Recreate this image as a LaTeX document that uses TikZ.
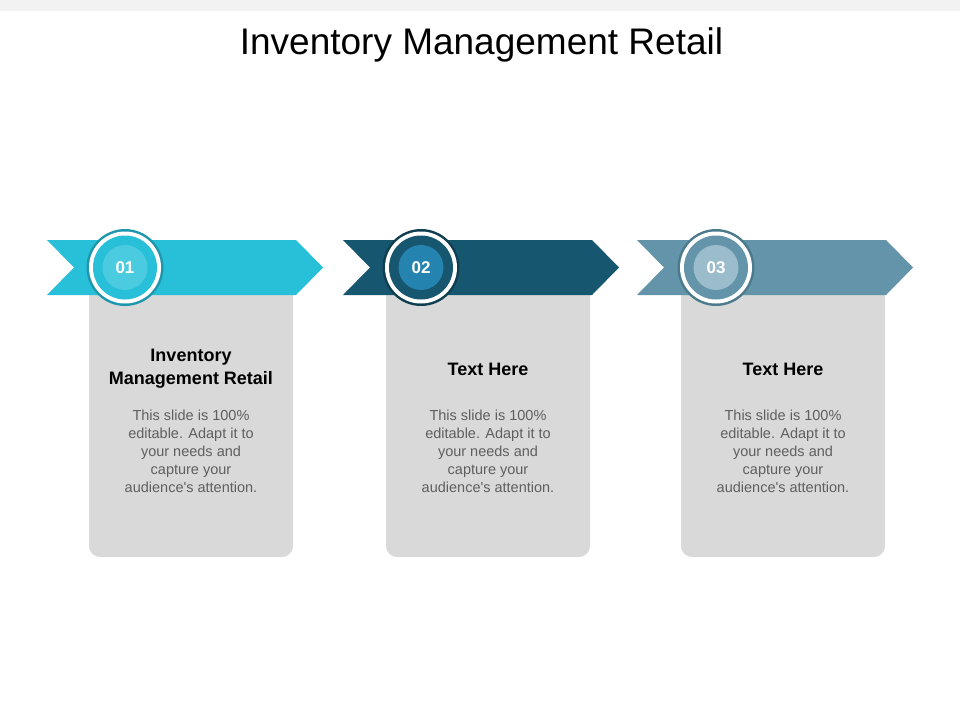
\documentclass[tikz,border=0pt]{standalone}
\usepackage{fontspec}
\setmainfont{Liberation Sans}
\begin{document}
\begin{tikzpicture}[x=1pt,y=-1pt,
  titlefont/.style={font=\fontsize{37}{42}\selectfont, text=black},
  headfont/.style={font=\bfseries\fontsize{18}{23}\selectfont, text=black, align=center},
  bodyfont/.style={font=\fontsize{14.5}{18}\selectfont, text=bodygray, align=center},
  numfont/.style={font=\bfseries\fontsize{17}{20}\selectfont, text=white},
]
\definecolor{topband}{HTML}{F2F2F2}
\definecolor{cardgray}{HTML}{D9D9D9}
\definecolor{bodygray}{HTML}{5F5F5F}
\definecolor{bA}{HTML}{28BFD9}\definecolor{rA}{HTML}{1E97AD}\definecolor{iA}{HTML}{4BCBE0}
\definecolor{bB}{HTML}{17566F}\definecolor{rB}{HTML}{0F3E51}\definecolor{iB}{HTML}{2583B0}
\definecolor{bC}{HTML}{6494A9}\definecolor{rC}{HTML}{4C7A8D}\definecolor{iC}{HTML}{9ABCCB}

\useasboundingbox (0,0) rectangle (960,720);
\fill[white] (0,0) rectangle (960,720);
\fill[topband] (0,0) rectangle (960,11);

\node[titlefont, anchor=base] (title) at (481.5,54) {Inventory Management Retail};

% step columns: banner left x, box left x, circle x
\foreach \bl/\xl/\cx/\bc/\rc/\ic/\k/\num in {47/89/125/bA/rA/iA/0/01, 343/386/421/bB/rB/iB/1/02, 637/681/716/bC/rC/iC/2/03}{
    \fill[cardgray, rounded corners=11pt] (\xl,275) rectangle ({\xl+204},557);
    \fill[\bc] (\bl,240) -- ({\bl+249},240) -- ({\bl+276},267.5) -- ({\bl+249},295) -- (\bl,295) -- ({\bl+27},267.5) -- cycle;
    \fill[\rc] (\cx,267.5) circle (38.5);
    \fill[white] (\cx,267.5) circle (36);
    \fill[\bc] (\cx,267.5) circle (32);
    \fill[\ic] (\cx,267.5) circle (22.5);
    \node[numfont] (num\k) at (\cx,267.5) {\num};
}

\node[headfont] (head0) at (191,369) {Inventory\\Management Retail};
\node[headfont] (head1) at (488,369) {Text Here};
\node[headfont] (head2) at (783,369) {Text Here};

\node[bodyfont] (body0) at (191,451) {This slide is 100\%\\editable. Adapt it to\\your needs and\\capture your\\audience\textquotesingle s attention.};
\node[bodyfont] (body1) at (488,451) {This slide is 100\%\\editable. Adapt it to\\your needs and\\capture your\\audience\textquotesingle s attention.};
\node[bodyfont] (body2) at (783,451) {This slide is 100\%\\editable. Adapt it to\\your needs and\\capture your\\audience\textquotesingle s attention.};
\end{tikzpicture}
\end{document}
